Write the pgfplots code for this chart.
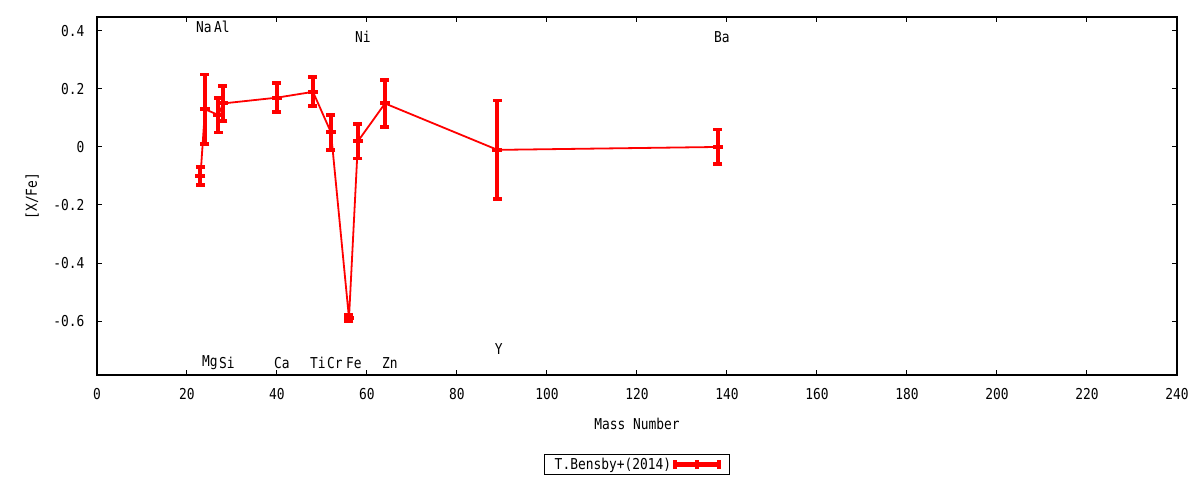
\documentclass[border=0pt]{standalone}
\usepackage{fontspec}
\setmainfont{DejaVu Sans Mono}[FakeStretch=0.86]
\usepackage{pgfplots}
\pgfplotsset{compat=1.18}

% [X/Fe] against mass number, T.Bensby+(2014)
\pgfplotstableread{
m    v      e
23  -0.10   0.03
24   0.13   0.12
27   0.11   0.06
28   0.15   0.06
40   0.17   0.05
48   0.19   0.05
52   0.05   0.06
56  -0.59   0.01
58   0.02   0.06
64   0.15   0.08
89  -0.01   0.17
138  0.00   0.06
}\bensby

\begin{document}
\begin{tikzpicture}
\useasboundingbox (0,0) rectangle (1200bp,480bp);
\begin{axis}[
    at={(97bp,105bp)}, anchor=south west,
    scale only axis, width=1080bp, height=358bp,
    xmin=0, xmax=240, ymin=-0.786, ymax=0.448,
    xtick={0,20,40,60,80,100,120,140,160,180,200,220,240},
    xticklabels={0,20,40,60,80,100,120,140,160,180,200,220,240},
    ytick={-0.6,-0.4,-0.2,0,0.2,0.4},
    yticklabels={-0.6,-0.4,-0.2,0,0.2,0.4},
    tick align=inside, major tick length=5bp,
    tick style={black, line width=1bp},
    axis line style={line width=1.2bp},
    font=\fontsize{15bp}{18bp}\selectfont,
    yticklabel style={xshift=-9bp},
    xticklabel style={yshift=-10bp},
    xlabel={Mass Number},
    ylabel={[X/Fe]},
    xlabel style={at={(axis description cs:0.5,-0.137)}, anchor=center},
    ylabel style={at={(axis description cs:-0.060,0.5)}, anchor=center, rotate=0},
    clip=false,
    legend style={at={(axis description cs:0.5,-0.25)}, anchor=center,
        draw=black, line width=1bp, inner xsep=8bp, inner ysep=1.5bp,
        font=\fontsize{15bp}{18bp}\selectfont, legend plot pos=right},
    legend image code/.code={
        \draw[red, line width=4bp] (0bp,0bp) -- (44bp,0bp);
        \draw[red, line width=3.5bp] (0bp,-4.5bp) -- (0bp,4.5bp)
            (22bp,-4.5bp) -- (22bp,4.5bp) (44bp,-4.5bp) -- (44bp,4.5bp);
    },
]
\addplot[red, line width=1.8bp, mark=-, mark size=5bp,
    mark options={line width=4bp},
    error bars/.cd, y dir=both, y explicit,
    error bar style={red, line width=4bp},
    error mark options={red, line width=3.8bp, mark size=4.5bp, rotate=90}]
    table[x=m, y=v, y error=e] {\bensby};
\addlegendentry{T.Bensby+(2014)}

\begin{scope}[every node/.style={inner sep=0pt, anchor=west}]
\node at (axis cs:22.0,0.414) {Na};
\node at (axis cs:26.0,0.414) {Al};
\node at (axis cs:57.3,0.379) {Ni};
\node at (axis cs:137.1,0.379) {Ba};
\node at (axis cs:23.3,-0.745) {Mg};
\node at (axis cs:27.1,-0.745) {Si};
\node at (axis cs:39.3,-0.745) {Ca};
\node at (axis cs:47.3,-0.745) {Ti};
\node at (axis cs:51.1,-0.745) {Cr};
\node at (axis cs:55.3,-0.745) {Fe};
\node at (axis cs:63.3,-0.745) {Zn};
\node at (axis cs:88.4,-0.697) {Y};
\end{scope}
\end{axis}
\end{tikzpicture}
\end{document}
